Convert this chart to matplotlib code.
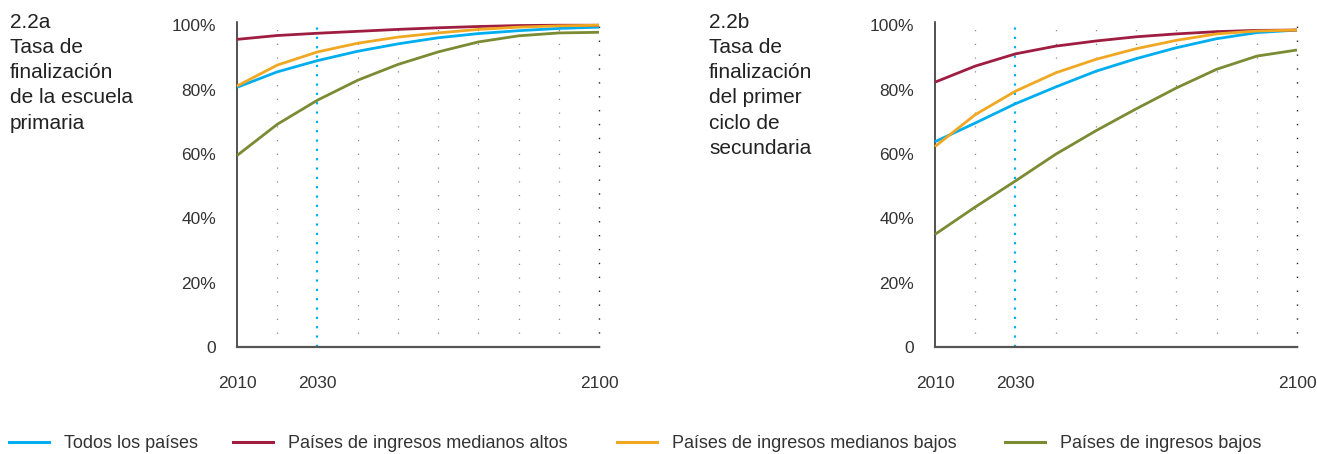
import numpy as np
import matplotlib
matplotlib.use('Agg')
import matplotlib.pyplot as plt
from matplotlib.lines import Line2D

plt.rcParams['font.family'] = ['Liberation Sans', 'DejaVu Sans']

# datos (cada 10 años)
years = [2010, 2020, 2030, 2040, 2050, 2060, 2070, 2080, 2090, 2100]

# 2.2a primaria
prim_todos = [80.7, 85.5, 89.0, 91.9, 94.2, 96.1, 97.4, 98.3, 99.0, 99.4]
prim_altos = [95.6, 96.8, 97.5, 98.1, 98.7, 99.2, 99.6, 99.9, 100.0, 100.0]
prim_mbajos = [81.1, 87.6, 91.7, 94.4, 96.3, 97.6, 98.7, 99.4, 99.8, 100.0]
prim_bajos = [59.5, 69.2, 76.7, 82.9, 87.8, 91.7, 94.8, 96.7, 97.6, 97.8]

# 2.2b primer ciclo de secundaria
sec_todos = [63.8, 69.6, 75.6, 80.8, 85.7, 89.6, 93.0, 95.8, 97.7, 98.5]
sec_altos = [82.3, 87.3, 91.1, 93.5, 95.1, 96.4, 97.3, 98.0, 98.4, 98.5]
sec_mbajos = [62.3, 72.2, 79.5, 85.2, 89.4, 92.7, 95.3, 97.3, 98.2, 98.5]
sec_bajos = [35.0, 43.5, 51.6, 59.9, 67.2, 74.0, 80.5, 86.3, 90.4, 92.3]

series_names = ['Todos los países', 'Países de ingresos medianos altos',
                'Países de ingresos medianos bajos', 'Países de ingresos bajos']
colors = ['#00AEEF', '#9E1D40', '#F0A823', '#7A8B33']

panels = [
    ('2.2a\nTasa de\nfinalización\nde la escuela\nprimaria', [prim_todos, prim_altos, prim_mbajos, prim_bajos]),
    ('2.2b\nTasa de\nfinalización\ndel primer\nciclo de\nsecundaria', [sec_todos, sec_altos, sec_mbajos, sec_bajos]),
]

text_col = '#333333'
fig = plt.figure(figsize=(13.17, 4.54), dpi=100)

ax_left = [237 / 1317, 935 / 1317]
title_x = [10 / 1317, 709 / 1317]

for k, (title, data) in enumerate(panels):
    ax = fig.add_axes([ax_left[k], 1 - 347 / 454, 362 / 1317, 325 / 454])
    ax.set_xlim(2010, 2100)
    ax.set_ylim(0, 101)

    # líneas de cuadrícula punteadas
    for yr in range(2020, 2100, 10):
        if yr == 2030:
            continue
        ax.axvline(yr, color='#8a8a8a', lw=0.9, linestyle=(0, (1, 10)), zorder=1)
    ax.axvline(2100, color='#222222', lw=1.0, linestyle=(0, (1, 9)), zorder=1, clip_on=False)
    ax.axvline(2030, color='#00AEEF', lw=1.6, linestyle=(0, (1, 3.2)), zorder=1)

    for vals, c in zip(data, colors):
        ax.plot(years, vals, color=c, lw=2.0, solid_capstyle='butt', zorder=3, clip_on=False)

    for s in ['top', 'right']:
        ax.spines[s].set_visible(False)
    ax.spines['left'].set_color('#222222')
    ax.spines['left'].set_linewidth(1.1)
    ax.spines['bottom'].set_color('#555555')
    ax.spines['bottom'].set_linewidth(1.6)

    ax.set_xticks([2010, 2030, 2100])
    ax.set_xticklabels(['2010', '2030', '2100'])
    ax.set_yticks([0, 20, 40, 60, 80, 100])
    ax.set_yticklabels(['0', '20%', '40%', '60%', '80%', '100%'])
    ax.tick_params(axis='x', length=0, pad=21, labelsize=12.5, colors=text_col)
    ax.tick_params(axis='y', length=0, pad=15, labelsize=12.5, colors=text_col)

    fig.text(title_x[k], 1 - 13 / 454, title, ha='left', va='top', fontsize=15,
             color='#222222', linespacing=1.41)

# leyenda: una entrada por posición
legend_x = [9, 233, 617, 1005]
for name, c, x0 in zip(series_names, colors, legend_x):
    fig.legend([Line2D([0], [0], color=c, lw=2.2)], [name], loc='center left',
               bbox_to_anchor=(x0 / 1317, 1 - 444 / 454), frameon=False,
               fontsize=13, handlelength=2.2, handletextpad=0.85,
               borderpad=0, borderaxespad=0, labelcolor=text_col)

fig.savefig('out.png', dpi=100)
